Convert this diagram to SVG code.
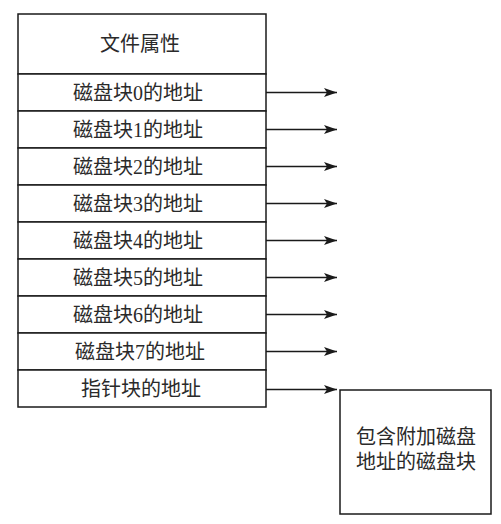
<svg xmlns="http://www.w3.org/2000/svg" width="501" height="524" viewBox="0 0 501 524">
<style>
.box{fill:#fff;stroke:#1a1a1a;stroke-width:1.5}
.t{font-family:"Liberation Serif","Noto Sans CJK SC",serif;font-size:20px;fill:#2a2a2a;text-anchor:middle;dominant-baseline:central}
.c{stroke:#1a1a1a;stroke-width:1.7;fill:none;marker-end:url(#ah)}
</style>
<defs>
<marker id="ah" viewBox="0 0 13 9" refX="13" refY="4.5" markerWidth="13" markerHeight="9" markerUnits="userSpaceOnUse" orient="auto">
<path d="M0,0 L13,4.5 L0,9 L3,4.5 Z" fill="#1a1a1a"/>
</marker>
</defs>
<rect width="501" height="524" fill="#fff"/>
<g id="header"><rect class="box" x="18" y="14" width="248" height="60"/><text class="t" x="140" y="44">文件属性</text></g>
<g id="row0"><rect class="box" x="18" y="74" width="248" height="37"/><text class="t" x="138" y="92.5">磁盘块0的地址</text></g>
<g id="row1"><rect class="box" x="18" y="111" width="248" height="37"/><text class="t" x="138" y="129.5">磁盘块1的地址</text></g>
<g id="row2"><rect class="box" x="18" y="148" width="248" height="37"/><text class="t" x="138" y="166.5">磁盘块2的地址</text></g>
<g id="row3"><rect class="box" x="18" y="185" width="248" height="37"/><text class="t" x="138" y="203.5">磁盘块3的地址</text></g>
<g id="row4"><rect class="box" x="18" y="222" width="248" height="37"/><text class="t" x="138" y="240.5">磁盘块4的地址</text></g>
<g id="row5"><rect class="box" x="18" y="259" width="248" height="37"/><text class="t" x="138" y="277.5">磁盘块5的地址</text></g>
<g id="row6"><rect class="box" x="18" y="296" width="248" height="37"/><text class="t" x="138" y="314.5">磁盘块6的地址</text></g>
<g id="row7"><rect class="box" x="18" y="333" width="248" height="37"/><text class="t" x="140" y="351.5">磁盘块7的地址</text></g>
<g id="pointer"><rect class="box" x="18" y="370" width="248" height="37"/><text class="t" x="141" y="388.5">指针块的地址</text></g>
<g id="extra"><rect class="box" x="340" y="390" width="151" height="124"/><text class="t" x="416" y="437">包含附加磁盘</text><text class="t" x="416" y="462">地址的磁盘块</text></g>
<g id="connectors">
<line class="c" x1="266" y1="92.5" x2="337" y2="92.5"/>
<line class="c" x1="266" y1="129.5" x2="337" y2="129.5"/>
<line class="c" x1="266" y1="166.5" x2="337" y2="166.5"/>
<line class="c" x1="266" y1="203.5" x2="337" y2="203.5"/>
<line class="c" x1="266" y1="240.5" x2="337" y2="240.5"/>
<line class="c" x1="266" y1="277.5" x2="337" y2="277.5"/>
<line class="c" x1="266" y1="314.5" x2="337" y2="314.5"/>
<line class="c" x1="266" y1="351.5" x2="337" y2="351.5"/>
<line class="c" x1="266" y1="389.5" x2="337" y2="389.5"/>
</g>
</svg>
